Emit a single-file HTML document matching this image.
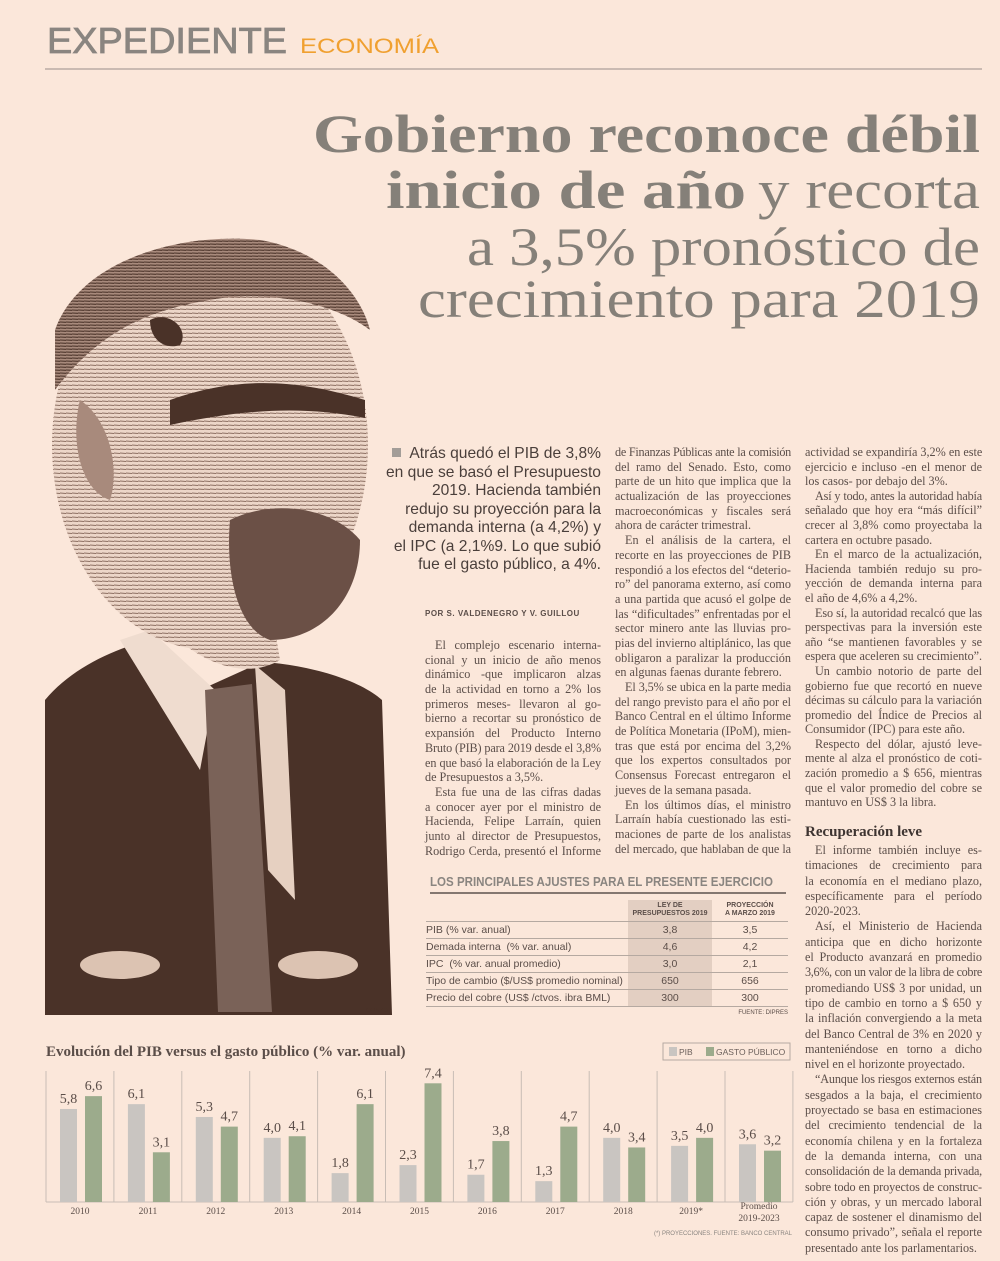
<!DOCTYPE html>
<html><head><meta charset="utf-8">
<style>
*{margin:0;padding:0;box-sizing:border-box}
body{width:1000px;height:1261px;background:#fbe7da;position:relative;overflow:hidden;font-family:"Liberation Serif",serif;color:#5b4e49}
.abs{position:absolute}
.col{position:absolute;font-size:12.2px;white-space:nowrap}
.col div{height:14.7px;line-height:14.7px;text-align:justify;text-align-last:justify;overflow:visible}
.col div.e{text-align-last:left}
.col div.i{padding-left:10px}
.c3 div{height:14.6px;line-height:14.6px}
.c3b div{height:15.3px;line-height:15.3px}
.deck{position:absolute;right:399px;top:445px;font-family:"Liberation Sans",sans-serif;font-size:15.6px;line-height:18.5px;text-align:right;color:#4a3f3b;white-space:nowrap}
.tbl{position:absolute;left:426px;top:900px;width:362px;font-family:"Liberation Sans",sans-serif;font-size:10.5px;color:#5b4e49}
.row{position:absolute;left:0;width:362px;height:17px;border-bottom:1px solid #b5a9a1;line-height:17px}
.row span{position:absolute;width:80px;text-align:center}
</style></head>
<body>
<!-- header -->
<svg class="abs" style="left:0;top:0" width="1000" height="340">
<text x="47" y="53" textLength="240" lengthAdjust="spacingAndGlyphs" font-family="Liberation Sans, sans-serif" font-size="36" fill="#8a8580" stroke="#8a8580" stroke-width="0.8">EXPEDIENTE</text>
<text x="300" y="53" textLength="139" lengthAdjust="spacingAndGlyphs" font-family="Liberation Sans, sans-serif" font-size="21" fill="#f0a030">ECONOMÍA</text>
<line x1="45" y1="69" x2="982" y2="69" stroke="#b9aca4" stroke-width="1.5"/>
<g font-family="Liberation Serif, serif" fill="#858079" font-size="54">
<text x="313" y="152" textLength="667" lengthAdjust="spacingAndGlyphs" font-weight="bold">Gobierno reconoce débil</text>
<text x="386" y="208" textLength="360" lengthAdjust="spacingAndGlyphs" font-weight="bold">inicio de año</text>
<text x="758" y="208" textLength="222" lengthAdjust="spacingAndGlyphs">y recorta</text>
<text x="467" y="265" textLength="513" lengthAdjust="spacingAndGlyphs">a 3,5% pronóstico de</text>
<text x="418" y="317" textLength="562" lengthAdjust="spacingAndGlyphs">crecimiento para 2019</text>
</g>
</svg>

<!-- illustration -->
<svg class="abs" style="left:0;top:0" width="400" height="1030">
<defs>
<pattern id="hatch" width="6" height="4" patternUnits="userSpaceOnUse"><rect width="6" height="4" fill="#ecd6c8"/><line x1="0" y1="1" x2="6" y2="1.5" stroke="#8d6f62" stroke-width="0.9"/></pattern>
<pattern id="hatchD" width="6" height="3" patternUnits="userSpaceOnUse"><rect width="6" height="3" fill="#a88a7c"/><line x1="0" y1="1" x2="6" y2="1.3" stroke="#4a3228" stroke-width="1.1"/></pattern>
</defs>
<path d="M45,700 C70,670 110,650 150,640 L200,690 L262,662 C310,665 360,680 382,700 L392,1015 L45,1015 Z" fill="#4a3228"/>
<path d="M120,640 L150,630 L215,690 L200,770 Z" fill="#efdccf"/>
<path d="M255,665 L285,690 L295,900 L268,870 Z" fill="#e6d0c1"/>
<path d="M205,690 L252,684 L272,1012 L218,1012 Z" fill="#7a6258"/>
<path d="M130,560 C150,640 230,690 280,660 L270,600 L140,560 Z" fill="url(#hatch)"/>
<ellipse cx="210" cy="445" rx="158" ry="205" fill="url(#hatch)"/>
<path d="M55,330 C80,260 180,232 260,240 C320,250 360,290 370,330 C330,300 260,290 210,300 C150,310 100,330 55,390 Z" fill="url(#hatchD)"/>
<path d="M170,400 C240,375 300,380 365,400 L365,418 C300,405 240,410 170,425 Z" fill="#4a3228"/>
<path d="M230,520 C270,500 330,505 360,540 C360,600 320,640 270,640 C240,630 225,580 230,520 Z" fill="#6b5046"/>
<path d="M80,400 C70,440 80,490 110,500 C120,470 110,420 80,400 Z" fill="#a88a7c"/>
<path d="M150,320 C170,310 190,330 180,345 C165,350 150,340 150,320 Z" fill="#4a3228"/>
<ellipse cx="120" cy="965" rx="40" ry="14" fill="#dcc3b2"/>
<ellipse cx="318" cy="965" rx="40" ry="14" fill="#dcc3b2"/>
<text x="366" y="1012" font-size="6" fill="#4a3228" font-family="Liberation Sans, sans-serif">GONZO</text>
</svg>

<!-- deck -->
<div class="deck"><span style="display:inline-block;width:9px;height:9px;background:#a39d98;margin-right:8px;vertical-align:1px"></span>Atrás quedó el PIB de 3,8%<br>en que se basó el Presupuesto<br>2019. Hacienda también<br>redujo su proyección para la<br>demanda interna (a 4,2%) y<br>el IPC (a 2,1%9. Lo que subió<br>fue el gasto público, a 4%.</div>

<div class="abs" style="left:425px;top:609px;font-family:'Liberation Sans',sans-serif;font-weight:bold;font-size:8px;letter-spacing:0.5px;color:#5b4e49">POR S. VALDENEGRO Y V. GUILLOU</div>

<div class="col" style="left:425px;top:638px;width:176px">
<div class="i">El complejo escenario interna-</div>
<div>cional y un inicio de año menos</div>
<div>dinámico -que implicaron alzas</div>
<div>de la actividad en torno a 2% los</div>
<div>primeros meses- llevaron al go-</div>
<div>bierno a recortar su pronóstico de</div>
<div>expansión del Producto Interno</div>
<div>Bruto (PIB) para 2019 desde el 3,8%</div>
<div>en que basó la elaboración de la Ley</div>
<div class="e">de Presupuestos a 3,5%.</div>
<div class="i">Esta fue una de las cifras dadas</div>
<div>a conocer ayer por el ministro de</div>
<div>Hacienda, Felipe Larraín, quien</div>
<div>junto al director de Presupuestos,</div>
<div>Rodrigo Cerda, presentó el Informe</div>
</div>

<div class="col" style="left:615px;top:445px;width:176px">
<div>de Finanzas Públicas ante la comisión</div>
<div>del ramo del Senado. Esto, como</div>
<div>parte de un hito que implica que la</div>
<div>actualización de las proyecciones</div>
<div>macroeconómicas y fiscales será</div>
<div class="e">ahora de carácter trimestral.</div>
<div class="i">En el análisis de la cartera, el</div>
<div>recorte en las proyecciones de PIB</div>
<div>respondió a los efectos del “deterio-</div>
<div>ro” del panorama externo, así como</div>
<div>a una partida que acusó el golpe de</div>
<div>las “dificultades” enfrentadas por el</div>
<div>sector minero ante las lluvias pro-</div>
<div>pias del invierno altiplánico, las que</div>
<div>obligaron a paralizar la producción</div>
<div class="e">en algunas faenas durante febrero.</div>
<div class="i">El 3,5% se ubica en la parte media</div>
<div>del rango previsto para el año por el</div>
<div>Banco Central en el último Informe</div>
<div>de Política Monetaria (IPoM), mien-</div>
<div>tras que está por encima del 3,2%</div>
<div>que los expertos consultados por</div>
<div>Consensus Forecast entregaron el</div>
<div class="e">jueves de la semana pasada.</div>
<div class="i">En los últimos días, el ministro</div>
<div>Larraín había cuestionado las esti-</div>
<div>maciones de parte de los analistas</div>
<div>del mercado, que hablaban de que la</div>
</div>

<div class="col c3" style="left:805px;top:445px;width:177px">
<div>actividad se expandiría 3,2% en este</div>
<div>ejercicio e incluso -en el menor de</div>
<div class="e">los casos- por debajo del 3%.</div>
<div class="i">Así y todo, antes la autoridad había</div>
<div>señalado que hoy era “más difícil”</div>
<div>crecer al 3,8% como proyectaba la</div>
<div class="e">cartera en octubre pasado.</div>
<div class="i">En el marco de la actualización,</div>
<div>Hacienda también redujo su pro-</div>
<div>yección de demanda interna para</div>
<div class="e">el año de 4,6% a 4,2%.</div>
<div class="i">Eso sí, la autoridad recalcó que las</div>
<div>perspectivas para la inversión este</div>
<div>año “se mantienen favorables y se</div>
<div>espera que aceleren su crecimiento”.</div>
<div class="i">Un cambio notorio de parte del</div>
<div>gobierno fue que recortó en nueve</div>
<div>décimas su cálculo para la variación</div>
<div>promedio del Índice de Precios al</div>
<div class="e">Consumidor (IPC) para este año.</div>
<div class="i">Respecto del dólar, ajustó leve-</div>
<div>mente al alza el pronóstico de coti-</div>
<div>zación promedio a $ 656, mientras</div>
<div>que el valor promedio del cobre se</div>
<div class="e">mantuvo en US$ 3 la libra.</div>
</div>
<div class="abs" style="left:805px;top:824px;font-weight:bold;font-size:15px;color:#3e3431">Recuperación leve</div>
<div class="col c3b" style="left:805px;top:843px;width:177px">
<div class="i">El informe también incluye es-</div>
<div>timaciones de crecimiento para</div>
<div>la economía en el mediano plazo,</div>
<div>específicamente para el período</div>
<div class="e">2020-2023.</div>
<div class="i">Así, el Ministerio de Hacienda</div>
<div>anticipa que en dicho horizonte</div>
<div>el Producto avanzará en promedio</div>
<div>3,6%, con un valor de la libra de cobre</div>
<div>promediando US$ 3 por unidad, un</div>
<div>tipo de cambio en torno a $ 650 y</div>
<div>la inflación convergiendo a la meta</div>
<div>del Banco Central de 3% en 2020 y</div>
<div>manteniéndose en torno a dicho</div>
<div class="e">nivel en el horizonte proyectado.</div>
<div class="i">“Aunque los riesgos externos están</div>
<div>sesgados a la baja, el crecimiento</div>
<div>proyectado se basa en estimaciones</div>
<div>del crecimiento tendencial de la</div>
<div>economía chilena y en la fortaleza</div>
<div>de la demanda interna, con una</div>
<div>consolidación de la demanda privada,</div>
<div>sobre todo en proyectos de construc-</div>
<div>ción y obras, y un mercado laboral</div>
<div>capaz de sostener el dinamismo del</div>
<div>consumo privado”, señala el reporte</div>
<div class="e">presentado ante los parlamentarios.</div>
</div>

<!-- table -->
<svg class="abs" style="left:0;top:870px" width="800" height="30">
<text x="430" y="16" textLength="343" lengthAdjust="spacingAndGlyphs" font-family="Liberation Sans, sans-serif" font-weight="bold" font-size="13" fill="#8a8580">LOS PRINCIPALES AJUSTES PARA EL PRESENTE EJERCICIO</text>
<line x1="430" y1="23" x2="786" y2="23" stroke="#3e3431" stroke-width="1.2"/>
</svg>
<div class="abs" style="left:628px;top:900px;width:84px;height:107px;background:#e3cfc2"></div>
<div class="tbl">
<div class="abs" style="left:202px;top:2px;width:84px;text-align:center;font-weight:bold;font-size:7px;line-height:8px">LEY DE<br>PRESUPUESTOS 2019</div>
<div class="abs" style="left:284px;top:2px;width:80px;text-align:center;font-weight:bold;font-size:7px;line-height:8px">PROYECCIÓN<br>A MARZO 2019</div>
<div class="row" style="top:22px">PIB (% var. anual)<span style="left:204px">3,8</span><span style="left:284px">3,5</span></div>
<div class="row" style="top:39px">Demada interna &nbsp;(% var. anual)<span style="left:204px">4,6</span><span style="left:284px">4,2</span></div>
<div class="row" style="top:56px">IPC &nbsp;(% var. anual promedio)<span style="left:204px">3,0</span><span style="left:284px">2,1</span></div>
<div class="row" style="top:73px">Tipo de cambio ($/US$ promedio nominal)<span style="left:204px">650</span><span style="left:284px">656</span></div>
<div class="row" style="top:90px">Precio del cobre (US$ /ctvos. ibra BML)<span style="left:204px">300</span><span style="left:284px">300</span></div>
<div class="abs" style="right:0;top:110px;font-size:6px">FUENTE: DIPRES</div>
</div>
<div class="abs" style="left:426px;top:921px;width:362px;border-top:1px solid #b5a9a1"></div>

<!-- chart -->
<svg id="chart" class="abs" style="left:0;top:1030px" width="1000" height="231">
<g id="cg" transform="translate(0,-1030)"></g>
</svg>

<script>
const categories = ["2010","2011","2012","2013","2014","2015","2016","2017","2018","2019*","Promedio|2019-2023"];
const pibValues = [5.8,6.1,5.3,4.0,1.8,2.3,1.7,1.3,4.0,3.5,3.6];
const gastoValues = [6.6,3.1,4.7,4.1,6.1,7.4,3.8,4.7,3.4,4.0,3.2];
const pibLabels = ["5,8","6,1","5,3","4,0","1,8","2,3","1,7","1,3","4,0","3,5","3,6"];
const gastoLabels = ["6,6","3,1","4,7","4,1","6,1","7,4","3,8","4,7","3,4","4,0","3,2"];

const NS="http://www.w3.org/2000/svg";
const g=document.getElementById('cg');
const x0=46, groupW=67.9, baseY=1202, pxPerUnit=16.04;
function xGroup(i){return x0+i*groupW;}
function yVal(v){return baseY-v*pxPerUnit;}
function mk(tag,attrs,parent){const e=document.createElementNS(NS,tag);for(const k in attrs)e.setAttribute(k,attrs[k]);(parent||g).appendChild(e);return e;}

const title=mk('text',{x:46,y:1056,'font-family':'Liberation Serif, serif','font-weight':'bold','font-size':15,fill:'#5b4e49'});


title.textContent='Evolución del PIB versus el gasto público (% var. anual)';

const leg=mk('g',{});


mk('rect',{x:663,y:1043,width:127,height:17,fill:'none',stroke:'#b5a9a1','stroke-width':1},leg);
mk('rect',{x:669,y:1047,width:8,height:9,fill:'#c9c5c1'},leg);
mk('text',{x:679,y:1055,'font-family':'Liberation Sans, sans-serif','font-size':8.5,fill:'#6b605b'},leg).textContent='PIB';
mk('rect',{x:706,y:1047,width:8,height:9,fill:'#9cab8c'},leg);
mk('text',{x:716,y:1055,'font-family':'Liberation Sans, sans-serif','font-size':8.5,fill:'#6b605b'},leg).textContent='GASTO PÚBLICO';

for(let i=0;i<=categories.length;i++){
  const s=mk('line',{x1:xGroup(i),x2:xGroup(i),y1:1071,y2:baseY,stroke:'#c8bdb5','stroke-width':1});
  
  
}
const ax=mk('line',{x1:x0,x2:xGroup(categories.length),y1:baseY,y2:baseY,stroke:'#c8bdb5','stroke-width':1});



categories.forEach((c,i)=>{
  const gx=xGroup(i);
  const b1=mk('rect',{x:gx+14,y:yVal(pibValues[i]),width:17,height:pibValues[i]*pxPerUnit,fill:'#c9c5c1'});
  
  
  const b2=mk('rect',{x:gx+39,y:yVal(gastoValues[i]),width:17,height:gastoValues[i]*pxPerUnit,fill:'#9cab8c'});
  
  
  const t1=mk('text',{x:gx+22.5,y:yVal(pibValues[i])-6,'text-anchor':'middle','font-family':'Liberation Serif, serif','font-size':14,fill:'#5b4e49'});
  
  
  t1.textContent=pibLabels[i];
  const t2=mk('text',{x:gx+47.5,y:yVal(gastoValues[i])-6,'text-anchor':'middle','font-family':'Liberation Serif, serif','font-size':14,fill:'#5b4e49'});
  
  
  t2.textContent=gastoLabels[i];
  const parts=c.split('|');
  parts.forEach((p,k)=>{
    const lt=mk('text',{x:gx+34,y:(parts.length>1?1209:1214)+k*12,'text-anchor':'middle','font-family':'Liberation Serif, serif','font-size':9.5,fill:'#5b4e49'});
    
    
    lt.textContent=p;
  });
});
const fn=mk('text',{x:792,y:1235,'text-anchor':'end','font-family':'Liberation Sans, sans-serif','font-size':6,fill:'#8a8580'});


fn.textContent='(*) PROYECCIONES. FUENTE: BANCO CENTRAL';

// squeeze overflowing lines
document.querySelectorAll('.col div').forEach(d=>{
  const over=d.scrollWidth-d.clientWidth;
  if(over>0){const n=d.textContent.length;d.style.letterSpacing=(-(over+1)/n)+'px';}
});
</script>
</body></html>
